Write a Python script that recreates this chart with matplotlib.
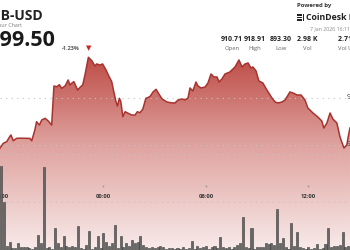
import numpy as np
import matplotlib
matplotlib.use("Agg")
import matplotlib.pyplot as plt
import matplotlib.transforms as mtransforms
from matplotlib.colors import LinearSegmentedColormap
from matplotlib.patches import Rectangle

plt.rcParams['font.family'] = ['Open Sans', 'DejaVu Sans']

# price line, minutes since 18:00 (6 Jan)
price_minutes = [-4, 8, 20, 32, 35, 43, 55, 67, 102, 108, 119, 125, 135, 143, 155, 166, 178,
                 186, 196, 205, 213, 225, 236, 242, 248, 256, 263, 269, 278, 287, 295, 307,
                 319, 330, 336, 348, 357, 369, 377, 389, 395, 404, 409, 416, 421, 428, 436,
                 447, 459, 471, 479, 488, 498, 509, 523, 535, 545, 553, 566, 583, 601, 611,
                 622, 636, 646, 657, 664, 674, 685, 692, 703, 717, 727, 738, 748, 759, 766,
                 776, 787, 804, 822, 836, 847, 857, 868, 878, 885, 896, 906, 920, 934, 952,
                 963, 973, 987, 998, 1015, 1026, 1040, 1054, 1068, 1078, 1096, 1113, 1127,
                 1134, 1145, 1156, 1166, 1180, 1191, 1201, 1205, 1215, 1219, 1226]
prices = [899.30, 900.36, 900.70, 901.91, 902.13, 900.91, 901.42, 901.45, 901.40, 900.90,
          903.19, 904.96, 904.25, 905.32, 905.68, 905.11, 904.25, 912.55, 912.40, 912.83,
          912.06, 912.55, 913.83, 912.77, 913.13, 913.47, 912.55, 911.70, 912.28, 912.77,
          914.89, 918.66, 917.94, 916.81, 917.24, 917.02, 917.24, 915.96, 914.89, 913.47,
          911.70, 909.21, 908.30, 909.94, 909.21, 906.02, 907.08, 906.74, 906.38, 906.38,
          907.08, 906.87, 907.60, 909.94, 910.28, 911.34, 911.85, 911.00, 909.79, 909.15,
          908.94, 908.94, 909.57, 909.79, 909.57, 910.00, 912.13, 911.49, 913.40, 912.55,
          912.13, 912.34, 913.19, 915.11, 914.47, 914.47, 913.40, 914.04, 915.11, 915.53,
          916.60, 918.09, 916.60, 917.24, 917.45, 916.38, 916.60, 915.75, 913.62, 913.19,
          911.70, 910.00, 909.15, 908.94, 909.15, 909.57, 911.28, 911.06, 910.64, 910.64,
          909.57, 907.87, 906.81, 905.96, 905.11, 903.62, 904.68, 906.81, 905.53, 904.68,
          901.70, 900.00, 899.36, 900.00, 901.49, 903.62]

# 10 minute volume bars (BNB)
volumes = [175, 100, 8, 17, 4, 4, 15, 6, 6, 6, 4, 2, 6, 31, 15, 173, 4, 6, 2, 46,
           15, 6, 29, 8, 6, 8, 6, 50, 4, 2, 10, 40, 2, 6, 29, 4, 35, 17, 8, 15,
           52, 4, 29, 6, 15, 8, 21, 15, 17, 29, 10, 6, 4, 6, 4, 6, 8, 6, 2, 4,
           4, 2, 4, 2, 6, 2, 4, 19, 2, 8, 4, 6, 8, 2, 6, 8, 4, 27, 6, 4,
           6, 2, 6, 10, 15, 69, 6, 4, 46, 2, 6, 6, 6, 15, 12, 15, 10, 85, 15, 25,
           6, 2, 56, 8, 37, 6, 4, 2, 6, 2, 4, 12, 2, 4, 12, 46, 6, 8, 8, 10,
           37, 6, 8, 25]
vol_minutes = [10 * i for i in range(len(volumes))]

time_ticks = [0, 360, 720, 1080]
time_labels = ["18:00", "00:00", "06:00", "12:00"]
price_grid = [900, 910]
vol_grid = [100, 200]
stat_values = ["910.71", "918.91", "893.30", "2.98 K", "2.71 M"]
stat_names = ["Open", "High", "Low", "Vol", "Vol USD"]

W, H = 350, 250
fig = plt.figure(figsize=(3.5, 2.5), dpi=100)
ax = fig.add_axes([0, 0, 1, 1])
ax.set_xlim(-3.5, 1226.1)
ylo, yhi = 877.66, 930.85
ax.axis('off')

# gradient fill under the line
cmap = LinearSegmentedColormap.from_list('fade', [(0, '#f8ebea'), (0.54, '#dfa39f'), (1, '#bd4a44')])
grad = np.linspace(0, 1, 256).reshape(-1, 1)
im = ax.imshow(grad, extent=[-3.5, 1226.1, ylo, 919], origin='lower', aspect='auto',
               cmap=cmap, zorder=1)
fb = ax.fill_between(price_minutes, prices, ylo, color='none', lw=0)
im.set_clip_path(fb.get_paths()[0], transform=ax.transData)
ax.set_xlim(-3.5, 1226.1)
ax.set_ylim(ylo, yhi)

for p in price_grid:
    ax.axhline(p, color='#c4c4c4', lw=0.8, ls=(0, (1, 4)), zorder=2)
ax.plot(price_minutes, prices, color='#a8332e', lw=1.1, zorder=4)

axv = ax.twinx()
axv.set_ylim(0, 520.8)
axv.axis('off')
for v in vol_grid:
    axv.axhline(v, color='#c4c4c4', lw=0.8, ls=(0, (1, 4)), zorder=1)
axv.bar(vol_minutes, volumes, width=7.2, color='#676767', edgecolor='#3c3c3c', lw=0.4, zorder=2)

# time axis labels
trans = mtransforms.blended_transform_factory(ax.transData, ax.transAxes)
for t, lab in zip(time_ticks, time_labels):
    ax.plot([t], [1 - 186 / H], marker='|', ms=2, color='#999999', transform=trans, zorder=5)
    ax.text(t, 1 - 196 / H, lab, transform=trans, ha='center', va='center',
            fontsize=4.2, fontweight='bold', color='#333333', zorder=5)

# price labels cut at the right edge
ptrans = mtransforms.blended_transform_factory(fig.transFigure, ax.transData)
for p in price_grid:
    ax.text(347 / W, p, f"{p:.2f}", transform=ptrans, ha='left', va='center',
            fontsize=5, color='#333333')

def px(x, y):
    return x / W, 1 - y / H

# header left
fig.text(*px(43, 15.5), "BNB-USD", ha='right', va='center', fontsize=10, fontweight='bold', color='#222222')
fig.text(*px(22, 25.5), "24 Hour Chart", ha='right', va='center', fontsize=3.8, color='#777777')
fig.text(*px(55, 40), "$899.50", ha='right', va='center', fontsize=15.5, fontweight='bold', color='#1a1a1a')
fig.text(*px(62, 49), "-1.23%", ha='left', va='center', fontsize=4, fontweight='bold', color='#555555')
fig.text(*px(89, 49), "\u25BC", ha='center', va='center', fontsize=5, color='#c62828')

# header right
fig.text(*px(297, 6), "Powered by", ha='left', va='center', fontsize=4.3, fontweight='bold', color='#333333')
for i in range(3):
    fig.add_artist(Rectangle(px(297, 14 + 2.6 * i + 1.6), 4.5 / W, 1.6 / H,
                             transform=fig.transFigure, color='#222222', lw=0))
fig.add_artist(Rectangle(px(302.5, 21), 1.5 / W, 7 / H, transform=fig.transFigure, color='#222222', lw=0))
fig.text(*px(306, 18), "CoinDesk Data", ha='left', va='center', fontsize=6.3, fontweight='bold', color='#222222')
fig.text(*px(350, 28.5), "7 Jan 2026 16:11", ha='right', va='center', fontsize=3.8, color='#888888')

stat_x = [232, 255, 281, 307, 349]
for x, val, name in zip(stat_x, stat_values, stat_names):
    fig.text(*px(x, 39.5), val, ha='center', va='center', fontsize=5, fontweight='bold', color='#222222')
    fig.text(*px(x, 48.5), name, ha='center', va='center', fontsize=4.2, color='#666666')

fig.savefig("out.png", dpi=100)
